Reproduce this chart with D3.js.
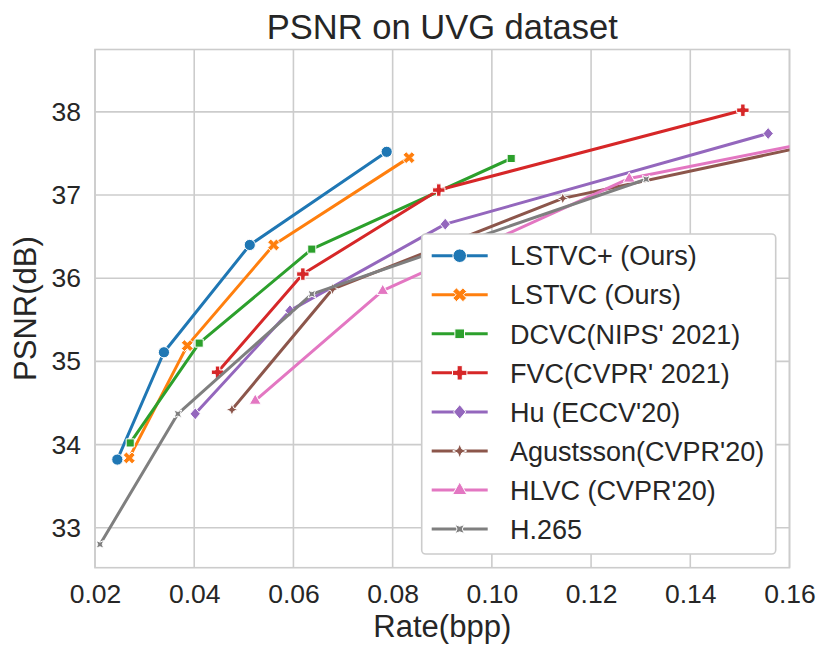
<!DOCTYPE html>
<html>
<head>
<meta charset="utf-8">
<script src="https://cdn.jsdelivr.net/npm/d3@7"></script>
<style>
    body { margin: 0; background: #ffffff; }
    text { font-family: "Liberation Sans", Arial, sans-serif; fill: #262626; }
</style>
</head>
<body>
<div id="chart"></div>
<script>
// values
const methods = ["LSTVC+ (Ours)", "LSTVC (Ours)", "DCVC(NIPS' 2021)", "FVC(CVPR' 2021)",
    "Hu (ECCV'20)", "Agustsson(CVPR'20)", "HLVC (CVPR'20)", "H.265"];
const colors = ["#1f77b4", "#ff7f0e", "#2ca02c", "#d62728", "#9467bd", "#8c564b", "#e377c2", "#7f7f7f"];
const markers = ["circle", "x", "square", "plus", "diamond", "star", "triangle", "starx"];

const rateLSTVCp = [0.0245, 0.0339, 0.0512, 0.0788];
const psnrLSTVCp = [33.82, 35.11, 36.40, 37.52];
const rateLSTVC = [0.0269, 0.0386, 0.0560, 0.0833];
const psnrLSTVC = [33.84, 35.19, 36.40, 37.45];
const rateDCVC = [0.0271, 0.0410, 0.0637, 0.1039];
const psnrDCVC = [34.02, 35.22, 36.35, 37.44];
const rateFVC = [0.0447, 0.0619, 0.0893, 0.1506];
const psnrFVC = [34.87, 36.05, 37.06, 38.02];
const rateHu = [0.0402, 0.0593, 0.0906, 0.1557];
const psnrHu = [34.37, 35.61, 36.65, 37.74];
const rateAgus = [0.0476, 0.0679, 0.1143, 0.17];
const psnrAgus = [34.42, 35.87, 36.96, 37.67];
const rateHLVC = [0.0523, 0.0780, 0.1277, 0.17];
const psnrHLVC = [34.53, 35.85, 37.20, 37.70];
const rateH265 = [0.0210, 0.0367, 0.0637, 0.1311];
const psnrH265 = [32.80, 34.37, 35.81, 37.19];

const rates = [rateLSTVCp, rateLSTVC, rateDCVC, rateFVC, rateHu, rateAgus, rateHLVC, rateH265];
const psnrs = [psnrLSTVCp, psnrLSTVC, psnrDCVC, psnrFVC, psnrHu, psnrAgus, psnrHLVC, psnrH265];

const xTicks = [0.02, 0.04, 0.06, 0.08, 0.10, 0.12, 0.14, 0.16];
const yTicks = [33, 34, 35, 36, 37, 38];

const svg = d3.select("#chart")
    .append("svg")
    .attr("width", 830)
    .attr("height", 658);

const pLeft = 95, pRight = 789.5, pTop = 49.5, pBottom = 567.7;

const x = d3.scaleLinear().domain([0.02, 0.16]).range([pLeft, pRight]);
const y = d3.scaleLinear().domain([32.52, 38.75]).range([pBottom, pTop]);

// grid
svg.append("g")
    .selectAll("line")
    .data(xTicks)
    .join("line")
    .attr("x1", d => x(d)).attr("x2", d => x(d))
    .attr("y1", pTop).attr("y2", pBottom)
    .attr("stroke", "#cccccc").attr("stroke-width", 1.6);
svg.append("g")
    .selectAll("line")
    .data(yTicks)
    .join("line")
    .attr("x1", pLeft).attr("x2", pRight)
    .attr("y1", d => y(d)).attr("y2", d => y(d))
    .attr("stroke", "#cccccc").attr("stroke-width", 1.6);

// spines
svg.append("rect")
    .attr("x", pLeft).attr("y", pTop)
    .attr("width", pRight - pLeft).attr("height", pBottom - pTop)
    .attr("fill", "none").attr("stroke", "#cccccc").attr("stroke-width", 1.6);

// axes (ticks hidden, labels only)
const xAxis = svg.append("g")
    .attr("transform", "translate(0," + pBottom + ")")
    .call(d3.axisBottom(x).tickValues(xTicks).tickFormat(d3.format(".2f")).tickSize(0).tickPadding(16));
const yAxis = svg.append("g")
    .attr("transform", "translate(" + pLeft + ",0)")
    .call(d3.axisLeft(y).tickValues(yTicks).tickFormat(d3.format("d")).tickSize(0).tickPadding(14));
[xAxis, yAxis].forEach(function (a) {
    a.select(".domain").remove();
    a.selectAll("text")
        .style("font-size", "26.5px")
        .style("font-family", "'Liberation Sans', Arial, sans-serif")
        .attr("fill", "#262626");
});

// marker shapes
function rot(p, deg) {
    const t = deg * Math.PI / 180;
    return [p[0] * Math.cos(t) - p[1] * Math.sin(t), p[0] * Math.sin(t) + p[1] * Math.cos(t)];
}
function markerPath(type, r) {
    let pts;
    const a = r * 0.36;
    if (type === "circle") return d3.symbol(d3.symbolCircle, Math.PI * r * r)();
    if (type === "square") {
        const s = r * 0.78;
        pts = [[-s, -s], [s, -s], [s, s], [-s, s]];
    } else if (type === "diamond") {
        pts = [[0, -r], [r * 0.85, 0], [0, r], [-r * 0.85, 0]];
    } else if (type === "triangle") {
        pts = [[0, -r * 1.05], [r * 0.95, r * 0.6], [-r * 0.95, r * 0.6]];
    } else if (type === "plus" || type === "x") {
        pts = [[-a, -r], [a, -r], [a, -a], [r, -a], [r, a], [a, a], [a, r], [-a, r], [-a, a], [-r, a], [-r, -a], [-a, -a]];
        if (type === "x") pts = pts.map(p => rot(p, 45));
    } else {
        // 4-point star
        const ri = r * 0.42;
        pts = [];
        for (let i = 0; i < 8; i++) {
            const ang = -Math.PI / 2 + i * Math.PI / 4;
            const rr = i % 2 === 0 ? r : ri;
            pts.push([rr * Math.cos(ang), rr * Math.sin(ang)]);
        }
        if (type === "starx") pts = pts.map(p => rot(p, 45));
    }
    return "M" + pts.map(p => p[0].toFixed(2) + "," + p[1].toFixed(2)).join("L") + "Z";
}
const plotR = [5.6, 6.2, 5.2, 6.2, 6, 5.8, 6.2, 5.4];
const legendR = [6.8, 7.2, 6.2, 7.2, 7.2, 7, 7.6, 6.4];

// series
svg.append("clipPath").attr("id", "clip")
    .append("rect")
    .attr("x", pLeft).attr("y", pTop)
    .attr("width", pRight - pLeft).attr("height", pBottom - pTop);

const plot = svg.append("g").attr("clip-path", "url(#clip)");
const line = d3.line().x(d => x(d[0])).y(d => y(d[1]));

methods.forEach(function (m, i) {
    const pts = d3.zip(rates[i], psnrs[i]);
    const g = plot.append("g");
    g.append("path")
        .datum(pts)
        .attr("d", line)
        .attr("fill", "none")
        .attr("stroke", colors[i])
        .attr("stroke-width", 3)
        .attr("stroke-linejoin", "round");
    g.selectAll("path.mk")
        .data(pts)
        .join("path")
        .attr("class", "mk")
        .attr("transform", d => "translate(" + x(d[0]) + "," + y(d[1]) + ")")
        .attr("d", markerPath(markers[i], plotR[i]))
        .attr("fill", colors[i])
        .attr("stroke", "#ffffff")
        .attr("stroke-width", 1);
});

// legend
const legend = svg.append("g");
legend.append("rect")
    .attr("x", 421.7).attr("y", 234)
    .attr("width", 354).attr("height", 320)
    .attr("rx", 4)
    .attr("fill", "#ffffff")
    .attr("stroke", "#cccccc").attr("stroke-width", 1.6);

methods.forEach(function (m, i) {
    const cy = 255.7 + i * 39.05;
    legend.append("line")
        .attr("x1", 431.7).attr("x2", 487.7)
        .attr("y1", cy).attr("y2", cy)
        .attr("stroke", colors[i]).attr("stroke-width", 3);
    legend.append("path")
        .attr("transform", "translate(459.7," + cy + ")")
        .attr("d", markerPath(markers[i], legendR[i]))
        .attr("fill", colors[i])
        .attr("stroke", "#ffffff").attr("stroke-width", 1);
    legend.append("text")
        .attr("x", 510).attr("y", cy + 9.7)
        .text(m)
        .style("font-size", "27px");
});

// titles
svg.append("text")
    .attr("x", 442.3).attr("y", 39.3)
    .attr("text-anchor", "middle")
    .text("PSNR on UVG dataset")
    .style("font-size", "34.5px");
svg.append("text")
    .attr("x", 442.3).attr("y", 637.3)
    .attr("text-anchor", "middle")
    .text("Rate(bpp)")
    .style("font-size", "31px");
svg.append("text")
    .attr("transform", "translate(36," + ((pTop + pBottom) / 2) + ") rotate(-90)")
    .attr("text-anchor", "middle")
    .text("PSNR(dB)")
    .style("font-size", "31px");
</script>
</body>
</html>
